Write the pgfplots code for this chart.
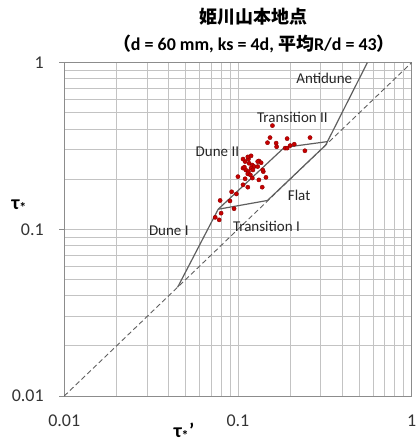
\documentclass[border=0pt]{standalone}
\usepackage{fontspec}
\setmainfont{Carlito}
\newfontfamily\cjk{Noto Sans CJK JP}
\usepackage{pgfplots}
\pgfplotsset{compat=1.18}

\definecolor{gridc}{RGB}{195,195,195}
\definecolor{framec}{RGB}{140,140,140}
\definecolor{linec}{RGB}{95,95,95}
\definecolor{ptfill}{RGB}{200,0,0}
\definecolor{ptdraw}{RGB}{140,0,0}

\begin{document}
\begin{tikzpicture}
\begin{axis}[
  scale only axis,
  width=348pt, height=334pt,
  xmode=log, ymode=log,
  xmin=0.01, xmax=1, ymin=0.01, ymax=1,
  xtick={0.01,0.1,1}, xticklabels={0.01,0.1,1},
  ytick={0.01,0.1,1}, yticklabels={0.01,0.1,1},
  grid=both,
  major grid style={gridc, line width=0.8pt},
  minor grid style={gridc, line width=0.8pt},
  axis line style={framec, line width=0.9pt},
  xtick style={draw=none}, minor tick style={draw=none},
  ytick style={framec, line width=0.8pt},
  ytick pos=left, tick align=outside, major tick length=5pt,
  tick label style={font=\fontsize{18}{20}\selectfont, text=black!80},
  xticklabel style={yshift=-10pt},
  yticklabel style={xshift=-12pt},
  xlabel={\bfseries τ\textsubscript{*}'},
  xlabel style={font=\fontsize{20}{22}\selectfont, at={(rel axis cs:0.345,0)}, anchor=center, yshift=-36pt},
  ylabel={\bfseries τ\textsubscript{*}},
  ylabel style={font=\fontsize{20}{22}\selectfont, at={(rel axis cs:0,0.57)}, rotate=-90, anchor=center, xshift=-45pt},
  title={{\cjk\bfseries 姫川山本地点}\\{\cjk\bfseries （}\bfseries d = 60 mm, ks = 4d, {\cjk\bfseries 平均}R/d = 43{\cjk\bfseries ）}},
  title style={align=center, font=\fontsize{18}{27}\selectfont, at={(rel axis cs:0.5,1)}, anchor=south, xshift=16pt, yshift=0pt},
  clip=true,
]
% diagonal
\addplot[linec, dashed, line width=0.9pt, dash pattern=on 5pt off 3pt] coordinates {(0.01,0.01) (1,1)};
% regime boundaries
\addplot[linec, line width=1.2pt] coordinates {(0.045,0.045) (0.077,0.132) (0.185,0.31) (0.328,0.336)};
\addplot[linec, line width=1.2pt] coordinates {(0.077,0.132) (0.148,0.149) (0.32,0.32) (0.556,1)};
% data
\addplot[only marks, mark=*, mark size=2.1pt, mark options={fill=ptfill, draw=ptdraw, line width=0.4pt}] coordinates {
(0.158,0.419) (0.153,0.355) (0.148,0.331) (0.166,0.329) (0.167,0.313)
(0.187,0.307) (0.192,0.307) (0.200,0.318) (0.211,0.324) (0.260,0.355)
(0.243,0.296) (0.119,0.276) (0.115,0.264) (0.132,0.257) (0.136,0.251)
(0.110,0.255) (0.116,0.249) (0.121,0.243) (0.124,0.238) (0.107,0.233)
(0.111,0.227) (0.115,0.222) (0.119,0.233) (0.130,0.238) (0.140,0.222)
(0.114,0.215) (0.100,0.207) (0.110,0.201) (0.121,0.203) (0.132,0.198)
(0.145,0.205) (0.107,0.185) (0.114,0.179) (0.138,0.179) (0.092,0.168)
(0.098,0.163) (0.079,0.149) (0.090,0.148) (0.095,0.133) (0.080,0.125)
(0.074,0.118) (0.078,0.114) (0.107,0.264) (0.114,0.272) (0.130,0.255)
(0.109,0.236) (0.122,0.227) (0.139,0.227) (0.192,0.350) (0.118,0.212)
};
% regime labels
\begin{scope}[every node/.style={font=\fontsize{15}{17}\selectfont, text=black!85}]
\node at (axis cs:0.314,0.81) {Antidune};
\node at (axis cs:0.206,0.472) {Transition II};
\node at (axis cs:0.0762,0.292) {Dune II};
\node at (axis cs:0.225,0.159) {Flat};
\node at (axis cs:0.146,0.1035) {Transition I};
\node at (axis cs:0.040,0.098) {Dune I};
\end{scope}
\end{axis}
\pgfresetboundingbox
\path ([shift={(-64.3pt,-47pt)}]current axis.south west) rectangle ([shift={(7pt,62.7pt)}]current axis.north east);
\end{tikzpicture}
\end{document}
